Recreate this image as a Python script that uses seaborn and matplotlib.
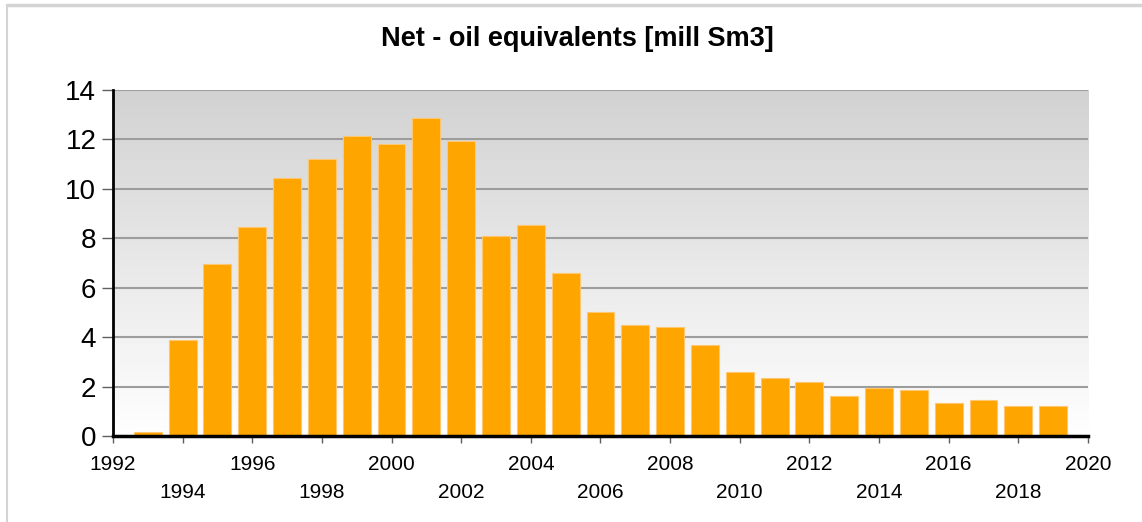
import numpy as np
import pandas as pd
import matplotlib
matplotlib.use("Agg")
import matplotlib.pyplot as plt
import seaborn as sns
from matplotlib.colors import LinearSegmentedColormap
from matplotlib.lines import Line2D

sns.set_style("white")
plt.rcParams['font.family'] = ['Liberation Sans', 'DejaVu Sans']

years = [1993, 1994, 1995, 1996, 1997, 1998, 1999, 2000, 2001, 2002,
         2003, 2004, 2005, 2006, 2007, 2008, 2009, 2010, 2011, 2012,
         2013, 2014, 2015, 2016, 2017, 2018, 2019]
net_oe = [0.15, 3.9, 6.95, 8.45, 10.45, 11.2, 12.15, 11.8, 12.85, 11.95,
          8.1, 8.55, 6.6, 5.0, 4.5, 4.4, 3.7, 2.6, 2.35, 2.2,
          1.6, 1.95, 1.85, 1.35, 1.45, 1.2, 1.2]
tick_years = list(range(1992, 2021, 2))
y_ticks = [0, 2, 4, 6, 8, 10, 12, 14]

df = pd.DataFrame({"year": years, "value": net_oe})

fig = plt.figure(figsize=(11.42, 5.22), dpi=100)
# light frame, only top and left edges show
fig.lines.append(Line2D([0.0065, 1.0], [0.991, 0.991], transform=fig.transFigure,
                        color="#d4d4d4", linewidth=2.5))
fig.lines.append(Line2D([0.0065, 0.0065], [0.0, 0.991], transform=fig.transFigure,
                        color="#d4d4d4", linewidth=1.5))
ax = fig.add_axes([0.0989, 0.1648, 0.8538, 0.6628])

# gradient background
cmap = LinearSegmentedColormap.from_list("bg", ["#ffffff", "#d2d2d2"])
ax.imshow(np.linspace(0, 1, 256).reshape(-1, 1), cmap=cmap, aspect="auto",
          extent=[0, 1, 0, 1], transform=ax.transAxes, origin="lower", zorder=0)

for y in y_ticks[1:]:
    ax.axhline(y, color="#9d9d9d", linewidth=1.5, zorder=1)

sns.barplot(data=df, x="year", y="value", native_scale=True, color="#FFA500",
            saturation=1, width=0.8, edgecolor="#ffc870", linewidth=0.8,
            ax=ax, zorder=2)

ax.set_xlim(1992, 2020)
ax.set_ylim(0, 14)
ax.set_xticks(tick_years)
ax.set_xticklabels([str(y) if (y - 1992) % 4 == 0 else "\n" + str(y) for y in tick_years],
                   fontsize=15, linespacing=1.55, color="black")
ax.set_yticks(y_ticks)
ax.set_yticklabels([str(v) for v in y_ticks], fontsize=20, color="black")
ax.tick_params(axis="x", length=5, width=1, color="#606060", pad=9, bottom=True)
ax.tick_params(axis="y", length=8, width=1, color="#606060", pad=4, left=True)
ax.set_xlabel("")
ax.set_ylabel("")

for s in ["top", "right"]:
    ax.spines[s].set_visible(False)
ax.spines["left"].set_color("black")
ax.spines["left"].set_linewidth(2)
ax.spines["bottom"].set_color("black")
ax.spines["bottom"].set_linewidth(2.5)
ax.spines["bottom"].set_zorder(5)

fig.text(0.506, 0.925, "Net - oil equivalents [mill Sm3]", ha="center", va="center",
         fontsize=19.5, fontweight="bold", color="black")

fig.savefig("out.png", dpi=100)
